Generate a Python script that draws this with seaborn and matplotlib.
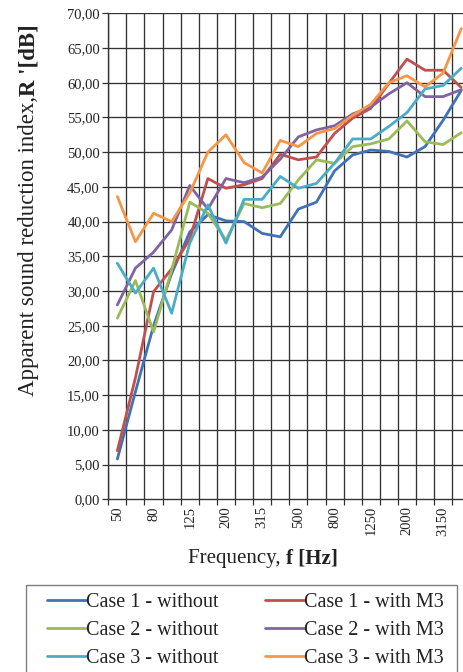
import numpy as np
import pandas as pd
import matplotlib
matplotlib.use("Agg")
import matplotlib.pyplot as plt
import seaborn as sns
from matplotlib.ticker import FuncFormatter, FixedLocator
from matplotlib.patches import Rectangle

freqs = ["50", "63", "80", "100", "125", "160", "200", "250", "315", "400",
         "500", "630", "800", "1000", "1250", "1600", "2000", "2500", "3150", "4000"]

case1_without = [5.8, 15.5, 25.0, 32.5, 38.5, 41.0, 40.1, 40.0, 38.3, 37.8,
                 41.8, 42.8, 47.3, 49.6, 50.3, 50.1, 49.3, 50.8, 54.6, 58.9]
case1_with_m3 = [7.0, 17.5, 29.9, 33.2, 37.5, 46.2, 44.8, 45.3, 46.2, 49.7,
                 48.9, 49.3, 52.7, 54.9, 56.3, 59.9, 63.4, 61.8, 61.8, 59.3]
case2_without = [26.1, 31.5, 24.1, 33.0, 42.8, 41.2, 37.3, 42.6, 42.0, 42.6,
                 46.0, 48.9, 48.4, 50.8, 51.2, 51.9, 54.5, 51.5, 51.1, 52.8]
case2_with_m3 = [28.0, 33.3, 35.6, 38.8, 45.2, 41.8, 46.2, 45.6, 46.4, 49.0,
                 52.2, 53.2, 53.8, 55.5, 56.5, 58.4, 60.0, 58.0, 58.0, 59.0]
case3_without = [34.0, 29.7, 33.3, 26.8, 36.9, 42.4, 36.9, 43.2, 43.2, 46.5,
                 44.8, 45.5, 48.4, 51.9, 51.9, 53.7, 55.7, 59.1, 59.6, 62.1]
case3_with_m3 = [43.6, 37.1, 41.2, 40.0, 44.1, 50.0, 52.5, 48.5, 47.0, 51.7,
                 50.8, 52.7, 53.4, 55.3, 56.9, 60.0, 61.0, 59.4, 61.4, 67.8]

series_names = ["Case 1 - without", "Case 1 - with M3",
                "Case 2 - without", "Case 2 - with M3",
                "Case 3 - without", "Case 3 - with M3"]
series_values = [case1_without, case1_with_m3, case2_without,
                 case2_with_m3, case3_without, case3_with_m3]
colors = ["#3F72B8", "#C0504D", "#9BBB59", "#8064A2", "#4BACC6", "#F79646"]

rows = []
for name, vals in zip(series_names, series_values):
    for i, v in enumerate(vals):
        rows.append({"idx": i, "value": v, "series": name})
df = pd.DataFrame(rows)

sns.set_theme(style="white")
plt.rcParams["font.family"] = ["Liberation Serif", "DejaVu Serif"]

W, H = 464, 672
fig = plt.figure(figsize=(W / 100, H / 100), dpi=100)
left_px, right_px, top_px, bot_px = 108.3, 470.3, 13.3, 499.3
ax = fig.add_axes([left_px / W, 1 - bot_px / H, (right_px - left_px) / W, (bot_px - top_px) / H])

sns.lineplot(data=df, x="idx", y="value", hue="series", hue_order=series_names,
             palette=dict(zip(series_names, colors)), linewidth=2.0, sort=False,
             ax=ax, legend=True)

n = len(freqs)
ax.set_xlim(-0.5, n - 0.5)
ax.set_ylim(0, 70)
ax.set_yticks(np.arange(0, 70.1, 5))
ax.yaxis.set_major_formatter(FuncFormatter(lambda v, p: f"{v:.2f}".replace(".", ",")))
ax.xaxis.set_major_locator(FixedLocator(list(range(0, n, 2))))
ax.set_xticklabels([freqs[i] for i in range(0, n, 2)], rotation=90)
ax.xaxis.set_minor_locator(FixedLocator(list(np.arange(-0.5, n, 1.0))))

ax.grid(False)
for k in np.arange(-0.5, n, 1.0):
    ax.axvline(k, color="#333333", lw=0.95, zorder=0)
for yv in np.arange(5, 70.1, 5):
    ax.axhline(yv, color="#333333", lw=0.95, zorder=0)

ax.tick_params(axis="y", which="major", direction="out", length=4, width=0.9,
               color="#333333", labelsize=10.5, pad=2, left=True)
ax.tick_params(axis="x", which="major", length=0, labelsize=10.5, pad=5, bottom=True)
ax.tick_params(axis="x", which="minor", direction="out", length=4, width=0.9,
               color="#333333", bottom=True)
for s in ["top", "right"]:
    ax.spines[s].set_visible(False)
for s in ["left", "bottom"]:
    ax.spines[s].set_color("#333333")
    ax.spines[s].set_linewidth(1.0)
for lab in ax.get_xticklabels() + ax.get_yticklabels():
    lab.set_color("#222222")

ax.set_xlabel("")
ax.set_ylabel("")

renderer = fig.canvas.get_renderer()
tc = "#222222"

# y label: normal part + bold part, rotated
y_fs = 16.5
t1 = fig.text(0, 0, "Apparent sound reduction index,", rotation=90, fontsize=y_fs,
              color=tc, ha="center", va="bottom")
t2 = fig.text(0, 0, "R '[dB]", rotation=90, fontsize=y_fs, fontweight="bold",
              color=tc, ha="center", va="bottom")
h1 = t1.get_window_extent(renderer).height
h2 = t2.get_window_extent(renderer).height
yc_px = 210.0
xc = 29.0 / W
y_start = (H - yc_px) - (h1 + h2) / 2
t1.set_position((xc, y_start / H))
t2.set_position((xc, (y_start + h1) / H))

# x label: normal part + bold part
x_fs = 15
u1 = fig.text(0, 0, "Frequency, ", fontsize=x_fs, color=tc, ha="left", va="center")
u2 = fig.text(0, 0, "f [Hz]", fontsize=x_fs, fontweight="bold", color=tc,
              ha="left", va="center")
w1 = u1.get_window_extent(renderer).width
w2 = u2.get_window_extent(renderer).width
xc_px = 263.0
x_start = xc_px - (w1 + w2) / 2
yl = 1 - 558 / H
u1.set_position((x_start / W, yl))
u2.set_position(((x_start + w1) / W, yl))

handles, labels = ax.get_legend_handles_labels()
ax.get_legend().remove()
order = [0, 2, 4, 1, 3, 5]
leg = fig.legend([handles[i] for i in order], [labels[i] for i in order],
                 ncol=2, loc="upper left", bbox_to_anchor=(47 / W, 1 - 593 / H),
                 fontsize=14.5, frameon=False, handlelength=1.95,
                 handletextpad=0.0, columnspacing=2.3, labelspacing=0.45,
                 borderpad=0.0, borderaxespad=0)
for t in leg.get_texts():
    t.set_color(tc)

box = Rectangle((26 / W, -0.05), (457 - 26) / W, (1 - 585 / H) + 0.05,
                transform=fig.transFigure, fill=False, edgecolor="#7f7f7f",
                linewidth=1.0, clip_on=False)
fig.add_artist(box)

fig.savefig("out.png", dpi=100)
